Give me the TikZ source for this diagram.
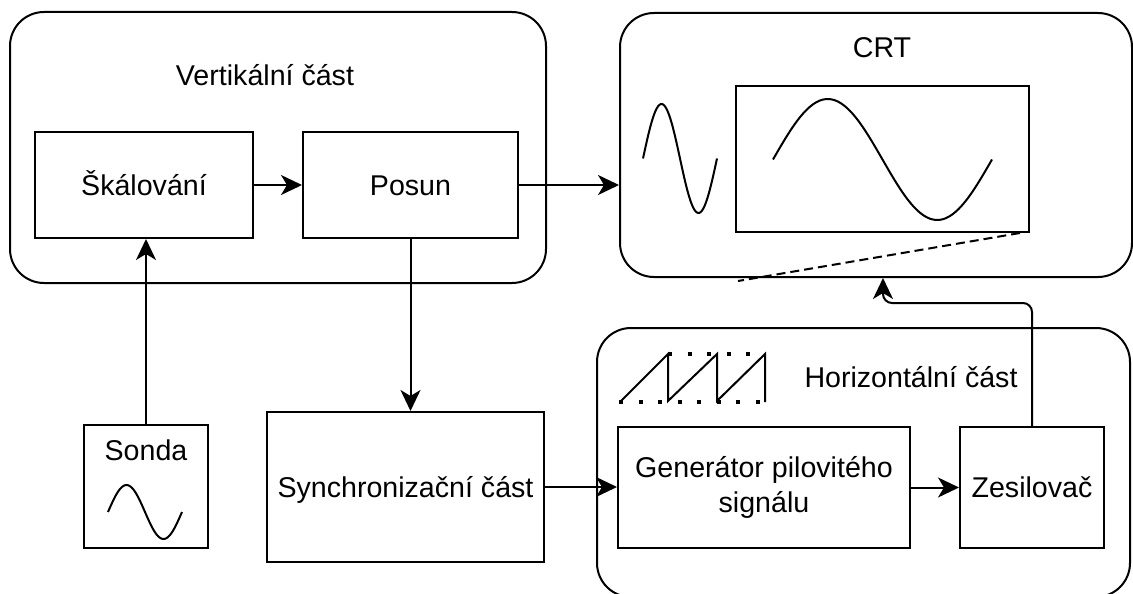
\documentclass[tikz,border=0pt]{standalone}
\usepackage{fontspec}
\setmainfont{Liberation Sans}
\usetikzlibrary{arrows.meta}

\begin{document}
\begin{tikzpicture}[x=1pt, y=-1pt, line width=2pt,
  txt/.style={font=\fontsize{28.6}{35}\selectfont},
  group/.style={draw, rounded corners=34pt, inner sep=0pt},
  blk/.style={draw, inner sep=0pt, align=center, txt, text height=20pt, text depth=0pt},
  title/.style={txt, anchor=base, inner sep=0pt},
  arr/.style={-{Stealth[length=21pt, width=20pt, inset=6pt]}},
  wave/.style={line width=2pt, line cap=butt},
  dots/.style={line width=4pt, dash pattern=on 4pt off 15.5pt, line cap=butt}]
\useasboundingbox (0,0) rectangle (1133,594);

% group frames
\node[group, minimum width=536pt, minimum height=271pt] (vert) at (278,147.5) {};
\node[group, minimum width=512pt, minimum height=264pt] (crt) at (876,145) {};
\node[group, minimum width=533pt, minimum height=269pt] (horiz) at (863.5,462.5) {};

% group titles
\node[title] (verttitle) at (265,85) {Vertikální část};
\node[title] (crttitle) at (882,58) {CRT};
\node[title] (horiztitle) at (911,387) {Horizontální část};

% blocks
\node[blk, minimum width=218pt, minimum height=106pt] (skal) at (144,185) {Škálování};
\node[blk, minimum width=215pt, minimum height=106pt] (posun) at (410.5,185) {Posun};
\node[blk, minimum width=277pt, minimum height=150pt] (sync) at (405.5,487) {Synchronizační část};
\node[draw, inner sep=0pt, minimum width=124pt, minimum height=123pt] (sonda) at (146,486.5) {};
\node[title] (sondatitle) at (146,460) {Sonda};
\node[draw, inner sep=0pt, align=center, txt, minimum width=292pt, minimum height=121pt] (gen) at (764,487.5) {Generátor pilovitého\\signálu};
\node[blk, minimum width=144pt, minimum height=121pt] (zes) at (1032,487.5) {Zesilovač};

% CRT screen
\node[draw, inner sep=0pt, minimum width=293pt, minimum height=146pt] (screen) at (882.5,159) {};

% waveforms
\draw[wave] plot[domain=0:360, samples=72, smooth] ({773+\x/360*219}, {159.5-60.5*sin(\x)});
\draw[wave] plot[domain=0:360, samples=60, smooth] ({643+\x/360*74}, {158.5-54.5*sin(\x)});
\draw[wave] plot[domain=0:360, samples=60, smooth] ({108+\x/360*74}, {512-27*sin(\x)});

% sawtooth
\draw[wave] (621,401) -- (668,354) -- (668,401) -- (717,354) -- (717,401) -- (765,354) -- (765,402);
\draw[dots] (668,354) -- (752,354);
\draw[dots] (619,401.5) -- (765,401.5);

% beam deflection
\coordinate (d1) at (1020,233);
\coordinate (d2) at (738,281);
\draw[dash pattern=on 9pt off 5pt] (d1) -- (d2);

% connectors
\draw[arr] (skal.east) -- (posun.west);
\draw[arr] (posun.east) -- (posun.east -| crt.west);
\draw[arr] (posun.south) -- (posun.south |- sync.north);
\draw[arr] (sonda.north) -- (sonda.north |- skal.south);
\draw[arr] (sync.east) -- (sync.east -| gen.west);
\draw[arr] (gen.east) -- (gen.east -| zes.west);
\coordinate (bend) at (883,303);
\draw[arr, rounded corners=9pt] (zes.north) |- (bend) -- (bend |- crt.south);
\end{tikzpicture}
\end{document}
